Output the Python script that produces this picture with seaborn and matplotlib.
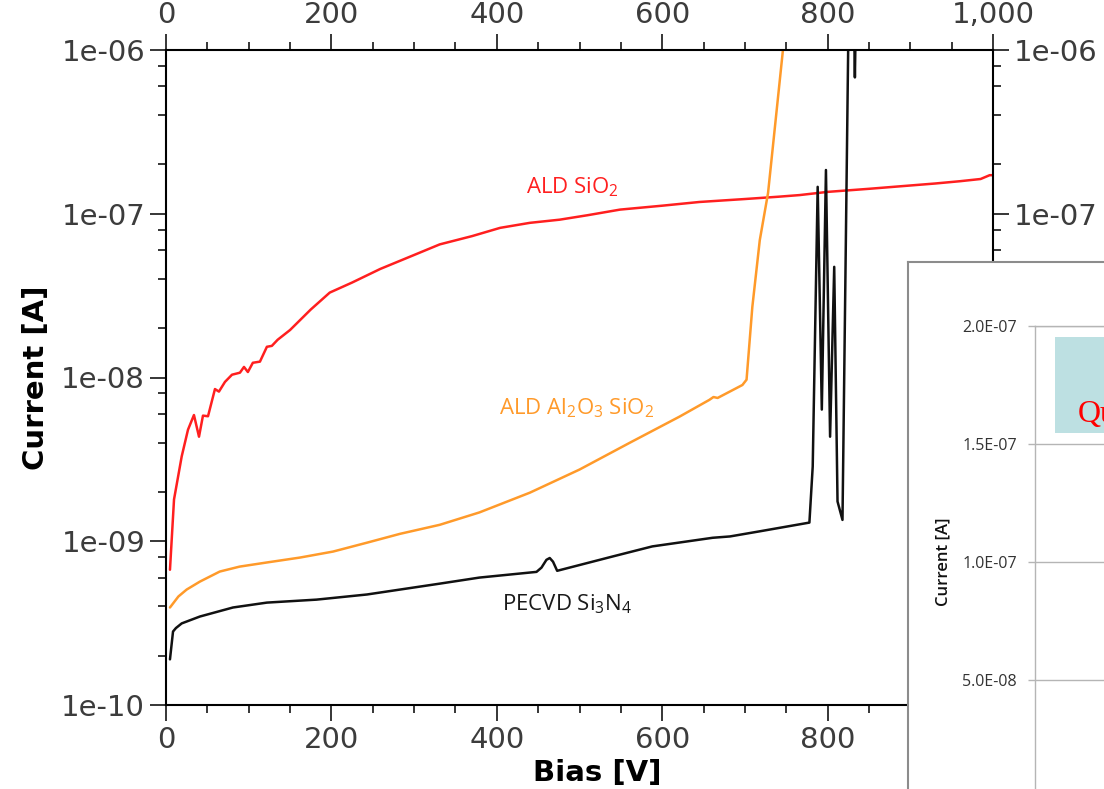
"""
I-V curves of passivation layers (log current vs bias)
"""

import numpy as np
import seaborn as sns
import matplotlib.pyplot as plt
from matplotlib.ticker import MultipleLocator, LogLocator, FuncFormatter, NullFormatter
from matplotlib.patches import Rectangle


# --------------------------------------------------
# Data
# --------------------------------------------------
sio2_bias = [4.8, 9.7, 19, 26.6, 33.8, 39.9, 44.7, 50.8, 59.2, 64, 71.3, 79.8,
             89.4, 94.3, 99, 105, 113.6, 122, 128, 135, 150, 175, 198, 225,
             259, 300, 331, 370, 404, 440, 476, 510, 549, 600, 645, 700, 740,
             766, 800, 850, 887, 930, 960, 985, 996, 1000]
sio2_curr = [6.7e-10, 1.8e-9, 3.3e-9, 4.8e-9, 5.9e-9, 4.35e-9, 5.85e-9, 5.8e-9,
             8.5e-9, 8.2e-9, 9.4e-9, 1.04e-8, 1.07e-8, 1.16e-8, 1.08e-8, 1.23e-8,
             1.25e-8, 1.54e-8, 1.56e-8, 1.7e-8, 1.95e-8, 2.6e-8, 3.3e-8, 3.8e-8,
             4.6e-8, 5.6e-8, 6.5e-8, 7.3e-8, 8.2e-8, 8.8e-8, 9.2e-8, 9.8e-8,
             1.06e-7, 1.12e-7, 1.18e-7, 1.23e-7, 1.27e-7, 1.30e-7, 1.36e-7,
             1.42e-7, 1.47e-7, 1.53e-7, 1.58e-7, 1.63e-7, 1.72e-7, 1.72e-7]

alo_bias = [4.8, 15, 25, 41, 65, 89, 122, 162, 202, 243, 283, 331, 379, 440,
            500, 561, 621, 657, 662, 667, 697, 702, 709, 718, 728, 746, 760]
alo_curr = [3.94e-10, 4.6e-10, 5.07e-10, 5.67e-10, 6.53e-10, 7.0e-10, 7.42e-10,
            7.95e-10, 8.65e-10, 9.8e-10, 1.11e-9, 1.26e-9, 1.50e-9, 1.98e-9,
            2.74e-9, 4.0e-9, 5.77e-9, 7.3e-9, 7.6e-9, 7.5e-9, 9.0e-9, 9.7e-9,
            2.7e-8, 6.9e-8, 1.34e-7, 1.0e-6, 2.0e-6]

sin_bias = [4.8, 8.5, 12, 19, 41, 81, 122, 182, 243, 283, 330, 379, 448, 454,
            460, 464, 468, 473, 540, 588, 661, 682, 718, 778, 782, 788, 793,
            798, 803, 808, 812, 818, 826, 831, 833, 835]
sin_curr = [1.9e-10, 2.81e-10, 2.95e-10, 3.15e-10, 3.47e-10, 3.94e-10, 4.22e-10,
            4.4e-10, 4.73e-10, 5.07e-10, 5.5e-10, 6.0e-10, 6.5e-10, 6.9e-10,
            7.7e-10, 7.9e-10, 7.5e-10, 6.6e-10, 8.07e-10, 9.3e-10, 1.05e-9,
            1.07e-9, 1.15e-9, 1.30e-9, 2.86e-9, 1.46e-7, 6.37e-9, 1.85e-7,
            4.35e-9, 4.74e-8, 1.75e-9, 1.35e-9, 3e-6, 3e-6, 6.8e-7, 3e-6]

inset_ticks = [5e-8, 1e-7, 1.5e-7, 2e-7]

# --------------------------------------------------
# Style
# --------------------------------------------------
sns.set_style("white")
plt.rcParams['font.family'] = ['DejaVu Sans']
plt.rcParams['mathtext.fontset'] = 'custom'
plt.rcParams['mathtext.rm'] = 'Open Sans'
plt.rcParams['mathtext.it'] = 'Open Sans:italic'
plt.rcParams['mathtext.bf'] = 'Open Sans:bold'

W, H = 1104, 789
fig = plt.figure(figsize=(W / 100, H / 100), dpi=100)
ax = fig.add_axes([166 / W, 1 - 705 / H, 827 / W, 655 / H])

# --------------------------------------------------
# Main plot
# --------------------------------------------------
sns.lineplot(x=sio2_bias, y=sio2_curr, color='#ff1f1f', lw=1.8, ax=ax,
             estimator=None, sort=False)
sns.lineplot(x=alo_bias, y=alo_curr, color='#ff9a2a', lw=1.8, ax=ax,
             estimator=None, sort=False)
sns.lineplot(x=sin_bias, y=sin_curr, color='#111111', lw=1.8, ax=ax,
             estimator=None, sort=False)

ax.set_yscale('log')
ax.set_xlim(0, 1000)
ax.set_ylim(1e-10, 1e-6)

ax.xaxis.set_major_locator(MultipleLocator(200))
ax.xaxis.set_minor_locator(MultipleLocator(50))
ax.xaxis.set_major_formatter(FuncFormatter(lambda v, p: f"{int(v):,}"))
ax.yaxis.set_major_locator(LogLocator(base=10, numticks=10))
ax.yaxis.set_minor_locator(LogLocator(base=10, subs=[2, 4, 6, 8], numticks=10))
ax.yaxis.set_major_formatter(FuncFormatter(lambda v, p: f"{v:.0e}"))
ax.yaxis.set_minor_formatter(NullFormatter())

ax.tick_params(which='both', direction='out', bottom=True, left=True, top=True,
               right=True, labeltop=True, labelright=True, color='black',
               labelcolor='#3c3c3c', labelsize=21, width=1.1)
ax.tick_params(which='major', length=11.5)
ax.tick_params(which='minor', length=5.5)
for s in ax.spines.values():
    s.set_color('black')
    s.set_linewidth(1.5)

ax.set_ylabel("Current [A]", fontsize=21, fontweight='bold', color='black',
              labelpad=8)
ax.set_xlabel("Bias [V]", fontsize=21, fontweight='bold', color='black')
ax.xaxis.set_label_coords(0.521, -0.082)

ax.text(491, 1.46e-7, "ALD SiO$_2$", color='#ff2020', fontsize=16,
        family='Open Sans', ha='center', va='center')
ax.text(497, 6.45e-9, "ALD Al$_2$O$_3$ SiO$_2$", color='#ff9a2a', fontsize=16,
        family='Open Sans', ha='center', va='center')
ax.text(485, 4.11e-10, "PECVD Si$_3$N$_4$", color='#1a1a1a', fontsize=16,
        family='Open Sans', ha='center', va='center')

# --------------------------------------------------
# Pasted inset (screenshot of another chart) in the lower right
# --------------------------------------------------
box = fig.add_axes([908 / W, -0.05, 0.2, (H - 262) / H + 0.05])
box.set_facecolor('white')
box.set_xticks([])
box.set_yticks([])
for s in box.spines.values():
    s.set_color('#8c8c8c')
    s.set_linewidth(1.5)

inner = fig.add_axes([1035 / W, 1 - 798 / H, 0.1, (798 - 326) / H])
inner.set_facecolor('none')
inner.set_xlim(0, 1)
inner.set_ylim(0, 2e-7)
inner.set_xticks([])
inner.yaxis.set_major_locator(MultipleLocator(5e-8))
inner.set_yticks(inset_ticks)
inner.yaxis.set_major_formatter(FuncFormatter(lambda v, p: f"{v:.1E}"))
inner.grid(axis='y', color='#b5b5b5', lw=1)
inner.tick_params(axis='y', left=True, length=5, width=1, color='#b5b5b5',
                  labelsize=11.5, labelcolor='#333333', pad=8)
for lab in inner.get_yticklabels():
    lab.set_family('Open Sans')
for k in ['right', 'bottom']:
    inner.spines[k].set_visible(False)
for k in ['left', 'top']:
    inner.spines[k].set_color('#b5b5b5')
    inner.spines[k].set_linewidth(1)
inner.set_ylabel("Current [A]", fontsize=12, fontweight='semibold',
                 family='Open Sans', color='#111111', labelpad=8)

inner.add_patch(Rectangle((0.181, 1.547e-7), 2, 0.406e-7, facecolor='#bde0e2',
                          edgecolor='none'))
inner.text(0.39, 1.593e-7, "Qu", color='red', fontsize=23,
           family='Liberation Serif', ha='left', va='baseline')

plt.savefig("out.png", dpi=100)
plt.close()
